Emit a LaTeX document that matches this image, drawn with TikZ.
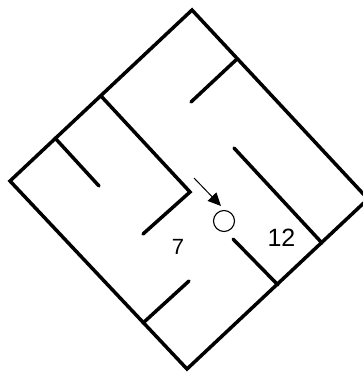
\documentclass[tikz,border=0pt]{standalone}
\usepackage{fontspec}
\setmainfont{Liberation Sans}
\usetikzlibrary{arrows.meta}
\tikzset{
  wall/.style={line width=3.5pt,line cap=round,line join=miter},
  roomnum/.style={inner sep=0pt,text=black},
  pointer/.style={line width=1pt,-{Triangle[length=13pt,width=12pt]}}
}

\begin{document}
\begin{tikzpicture}[x=1pt,y=-1pt]
\useasboundingbox (0,0) rectangle (363,372);
% corners of the maze
\coordinate (top) at (192,10);
\coordinate (left) at (10,181);
\coordinate (bottom) at (187,369);
\coordinate (right) at (368,199);
\draw[wall] (top) -- (right) -- (bottom) -- (left) -- cycle;
% inner walls
\draw[wall] (237,59) -- (191,102);
\draw[wall] (101,96) -- (190,192) -- (143,234);
\draw[wall] (55,138) -- (99,186);
\draw[wall] (234,148) -- (322,243);
\draw[wall] (233,239) -- (278,285);
\draw[wall] (189,281) -- (143,323);
% ball and pointer
\node[draw,circle,line width=1.1pt,minimum size=21pt,inner sep=0pt] (ball) at (224,221) {};
\coordinate (tail) at (194,178);
\coordinate (tip) at (221,206);
\draw[pointer] (tail) -- (tip);
% room numbers
\node[roomnum] (seven) at (178,246.5) {\fontsize{22pt}{22pt}\selectfont 7};
\node[roomnum] (twelve) at (281.5,238) {\fontsize{25pt}{25pt}\selectfont 12};
\end{tikzpicture}
\end{document}
